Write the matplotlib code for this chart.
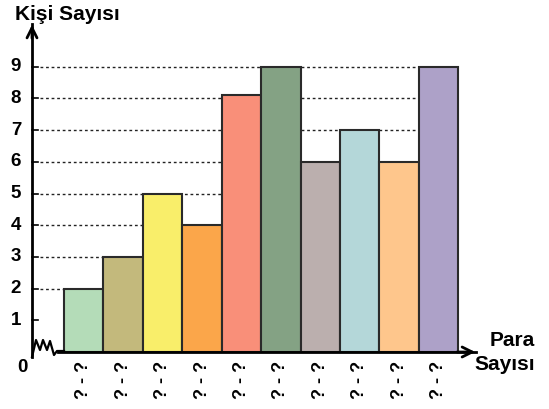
import matplotlib
matplotlib.use("Agg")
import matplotlib.pyplot as plt
import numpy as np

plt.rcParams['font.family'] = ['Liberation Sans', 'DejaVu Sans']

values = [2, 3, 5, 4, 8.1, 9, 6, 7, 6, 9]
labels = ['? - ?'] * 10
colors = ['#b4dcb8', '#c3b97c', '#f9ee6a', '#fba64a', '#f98f79',
          '#84a284', '#bbafae', '#b4d7d9', '#fec68c', '#ada1c8']
yticks = list(range(1, 10))
grid_levels = list(range(2, 10))

fig = plt.figure(figsize=(5.49, 4.09), dpi=100)
# axes: y axis at px 32, value 0 at px 352, arrow tips at px 478 / 22
bw = 39.43
ax = fig.add_axes([32 / 549, (409 - 352) / 409, (478 - 32) / 549, 330 / 409])
ax.set_xlim(-0.5 - (64 - 32) / bw, 9.5 + (478 - 458.3) / bw)
ax.set_ylim(0, 330 / 31.7)
ax.axis('off')

x = np.arange(len(values))
xl, xr = ax.get_xlim()
yt = ax.get_ylim()[1]

# dotted guide lines
for v in grid_levels:
    ax.plot([xl + 8 / bw, 9.5], [v, v], color='#222222', lw=1,
            ls=(0, (2, 2)), zorder=1, clip_on=False)

ax.bar(x, values, width=1.0, color=colors, edgecolor='#2a2a2a',
       linewidth=1.5, zorder=3)

# y axis with arrow
ax.plot([xl, xl], [-5 / 31.7, yt - 0.05], color='black', lw=2,
        clip_on=False, zorder=4)
ax.annotate('', xy=(xl, yt), xytext=(xl, yt - 0.6),
            arrowprops=dict(arrowstyle='->', lw=2, color='black',
                            mutation_scale=18), annotation_clip=False)
# x axis with arrow
ax.plot([xl + 26 / bw, xr - 0.05], [0, 0], color='black', lw=2,
        clip_on=False, zorder=4)
ax.annotate('', xy=(xr, 0), xytext=(xr - 0.6, 0),
            arrowprops=dict(arrowstyle='->', lw=2, color='black',
                            mutation_scale=18), annotation_clip=False)

# zigzag break at the origin
zx = np.array([32, 36, 40, 43, 47, 50, 54, 57, 64]) - 32
zy = np.array([357, 340, 350, 340, 350, 341, 355, 351, 351])
ax.plot(xl + zx / bw, (352 - zy) / 31.7, color='black', lw=1.6,
        clip_on=False, zorder=4)

# ticks and labels
for v in yticks:
    ax.plot([xl, xl + 6 / bw], [v, v], color='black', lw=1.2,
            clip_on=False, zorder=4)
    ax.text(xl - 16 / bw, v, str(v), ha='center', va='center',
            fontsize=13.5, fontweight='bold')
ax.text(xl - 10 / bw, -15 / 31.7, '0', ha='center', va='center',
        fontsize=13.5, fontweight='bold')

for xi, lab in zip(x, labels):
    ax.text(xi, -9 / 31.7, lab, rotation=90, ha='center', va='top',
            fontsize=13, fontweight='bold')

fig.text(15 / 549, 1 - 14 / 409, 'Kişi Sayısı', ha='left', va='center',
         fontsize=15, fontweight='bold')
fig.text(535 / 549, 1 - 340 / 409, 'Para', ha='right', va='center',
         fontsize=15, fontweight='bold')
fig.text(535 / 549, 1 - 365 / 409, 'Sayısı', ha='right', va='center',
         fontsize=15, fontweight='bold')

fig.savefig('out.png', dpi=100)
